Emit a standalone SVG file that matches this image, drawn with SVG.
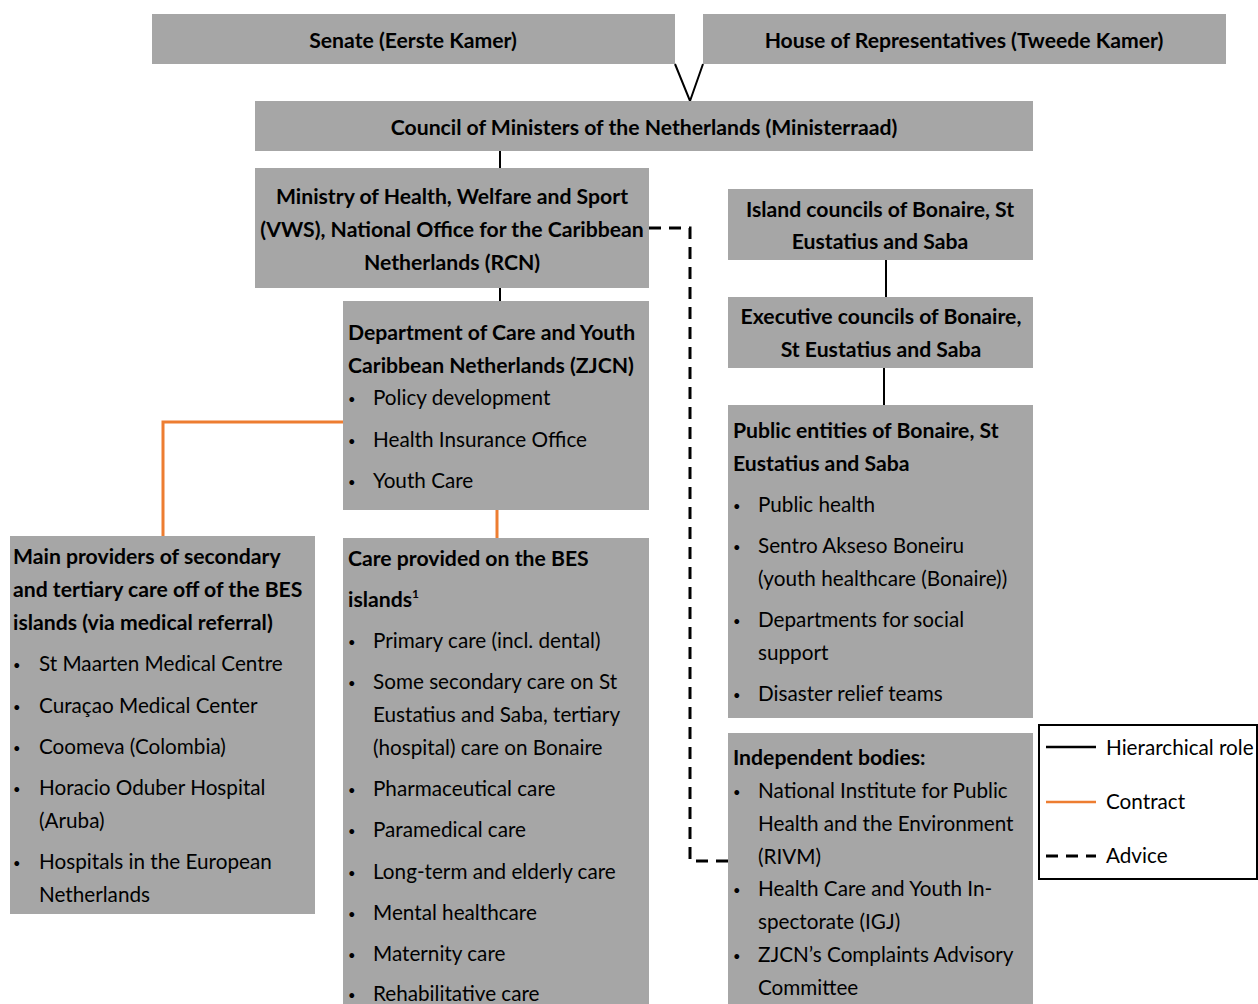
<svg xmlns="http://www.w3.org/2000/svg" width="1258" height="1004" viewBox="0 0 1258 1004">
<style>
.box{fill:#a6a6a6}
text{font-family:Lato,"Open Sans","Liberation Sans",sans-serif;font-size:20.7px;fill:#000}
.b{font-weight:bold;font-size:21.2px}
.c{text-anchor:middle}
.bul{font-size:13px}
.h{stroke:#000;stroke-width:2;fill:none}
.o{stroke:#ed7d31;stroke-width:3;fill:none}
.d{stroke:#000;stroke-width:3;fill:none;stroke-dasharray:12 8}
</style>
<rect width="1258" height="1004" fill="#fff"/>
<g id="connectors">
<polyline class="h" points="675,64 690,101 703,64"/>
<line class="h" x1="500" y1="151" x2="500" y2="168"/>
<line class="h" x1="500" y1="288" x2="500" y2="301"/>
<polyline class="o" points="343,422 163,422 163,536"/>
<line class="o" x1="497" y1="510" x2="497" y2="538"/>
<polyline class="d" points="649,228 690,228 690,861 728,861"/>
<line class="h" x1="886" y1="260" x2="886" y2="297"/>
<line class="h" x1="884" y1="368" x2="884" y2="405"/>
</g>
<g id="senate">
<rect class="box" x="152" y="14" width="523" height="50"/>
<text class="b c" x="413" y="48">Senate (Eerste Kamer)</text>
</g>
<g id="house">
<rect class="box" x="703" y="14" width="523" height="50"/>
<text class="b c" x="964" y="48">House of Representatives (Tweede Kamer)</text>
</g>
<g id="council">
<rect class="box" x="255" y="101" width="778" height="50"/>
<text class="b c" x="644" y="135">Council of Ministers of the Netherlands (Ministerraad)</text>
</g>
<g id="ministry">
<rect class="box" x="255" y="168" width="394" height="120"/>
<text class="b c" x="452" y="204">Ministry of Health, Welfare and Sport</text>
<text class="b c" x="452" y="237">(VWS), National Office for the Caribbean</text>
<text class="b c" x="452" y="270">Netherlands (RCN)</text>
</g>
<g id="zjcn">
<rect class="box" x="343" y="301" width="306" height="209"/>
<text class="b" x="348" y="340">Department of Care and Youth</text>
<text class="b" x="348" y="373">Caribbean Netherlands (ZJCN)</text>
<text class="bul" x="348" y="404">•</text><text x="373" y="405">Policy development</text>
<text class="bul" x="348" y="446">•</text><text x="373" y="447">Health Insurance Office</text>
<text class="bul" x="348" y="487">•</text><text x="373" y="488">Youth Care</text>
</g>
<g id="main-providers">
<rect class="box" x="10" y="536" width="305" height="378"/>
<text class="b" x="13" y="564">Main providers of secondary</text>
<text class="b" x="13" y="597">and tertiary care off of the BES</text>
<text class="b" x="13" y="630">islands (via medical referral)</text>
<text class="bul" x="13" y="670">•</text><text x="39" y="671">St Maarten Medical Centre</text>
<text class="bul" x="13" y="712">•</text><text x="39" y="713">Curaçao Medical Center</text>
<text class="bul" x="13" y="753">•</text><text x="39" y="754">Coomeva (Colombia)</text>
<text class="bul" x="13" y="794">•</text><text x="39" y="795">Horacio Oduber Hospital</text>
<text x="39" y="828">(Aruba)</text>
<text class="bul" x="13" y="868">•</text><text x="39" y="869">Hospitals in the European</text>
<text x="39" y="902">Netherlands</text>
</g>
<g id="care-bes">
<rect class="box" x="343" y="538" width="306" height="466"/>
<text class="b" x="348" y="566">Care provided on the BES</text>
<text class="b" x="348" y="607">islands<tspan font-size="12" dy="-9">1</tspan></text>
<text class="bul" x="348" y="647">•</text><text x="373" y="648">Primary care (incl. dental)</text>
<text class="bul" x="348" y="688">•</text><text x="373" y="689">Some secondary care on St</text>
<text x="373" y="722">Eustatius and Saba, tertiary</text>
<text x="373" y="755">(hospital) care on Bonaire</text>
<text class="bul" x="348" y="795">•</text><text x="373" y="796">Pharmaceutical care</text>
<text class="bul" x="348" y="836">•</text><text x="373" y="837">Paramedical care</text>
<text class="bul" x="348" y="878">•</text><text x="373" y="879">Long-term and elderly care</text>
<text class="bul" x="348" y="919">•</text><text x="373" y="920">Mental healthcare</text>
<text class="bul" x="348" y="960">•</text><text x="373" y="961">Maternity care</text>
<text class="bul" x="348" y="1000">•</text><text x="373" y="1001">Rehabilitative care</text>
</g>
<g id="island-councils">
<rect class="box" x="728" y="189" width="305" height="71"/>
<text class="b c" x="880" y="217">Island councils of Bonaire, St</text>
<text class="b c" x="880" y="249">Eustatius and Saba</text>
</g>
<g id="executive-councils">
<rect class="box" x="728" y="297" width="305" height="71"/>
<text class="b c" x="881" y="324">Executive councils of Bonaire,</text>
<text class="b c" x="881" y="357">St Eustatius and Saba</text>
</g>
<g id="public-entities">
<rect class="box" x="728" y="405" width="305" height="313"/>
<text class="b" x="733" y="438">Public entities of Bonaire, St</text>
<text class="b" x="733" y="471">Eustatius and Saba</text>
<text class="bul" x="733" y="511">•</text><text x="758" y="512">Public health</text>
<text class="bul" x="733" y="552">•</text><text x="758" y="553">Sentro Akseso Boneiru</text>
<text x="758" y="586">(youth healthcare (Bonaire))</text>
<text class="bul" x="733" y="626">•</text><text x="758" y="627">Departments for social</text>
<text x="758" y="660">support</text>
<text class="bul" x="733" y="700">•</text><text x="758" y="701">Disaster relief teams</text>
</g>
<g id="independent-bodies">
<rect class="box" x="728" y="733" width="305" height="271"/>
<text class="b" x="733" y="765">Independent bodies:</text>
<text class="bul" x="733" y="797">•</text><text x="758" y="798">National Institute for Public</text>
<text x="758" y="831">Health and the Environment</text>
<text x="758" y="864">(RIVM)</text>
<text class="bul" x="733" y="895">•</text><text x="758" y="896">Health Care and Youth In-</text>
<text x="758" y="929">spectorate (IGJ)</text>
<text class="bul" x="733" y="961">•</text><text x="758" y="962">ZJCN’s Complaints Advisory</text>
<text x="758" y="995">Committee</text>
</g>
<g id="legend">
<rect x="1039" y="725" width="218" height="154" fill="#fff" stroke="#000" stroke-width="2"/>
<line x1="1046" y1="747" x2="1096" y2="747" stroke="#000" stroke-width="2.5"/>
<line x1="1046" y1="802" x2="1096" y2="802" stroke="#ed7d31" stroke-width="2.5"/>
<line class="d" x1="1046" y1="856" x2="1096" y2="856"/>
<text x="1106" y="755">Hierarchical role</text>
<text x="1106" y="809">Contract</text>
<text x="1106" y="863">Advice</text>
</g>
</svg>
